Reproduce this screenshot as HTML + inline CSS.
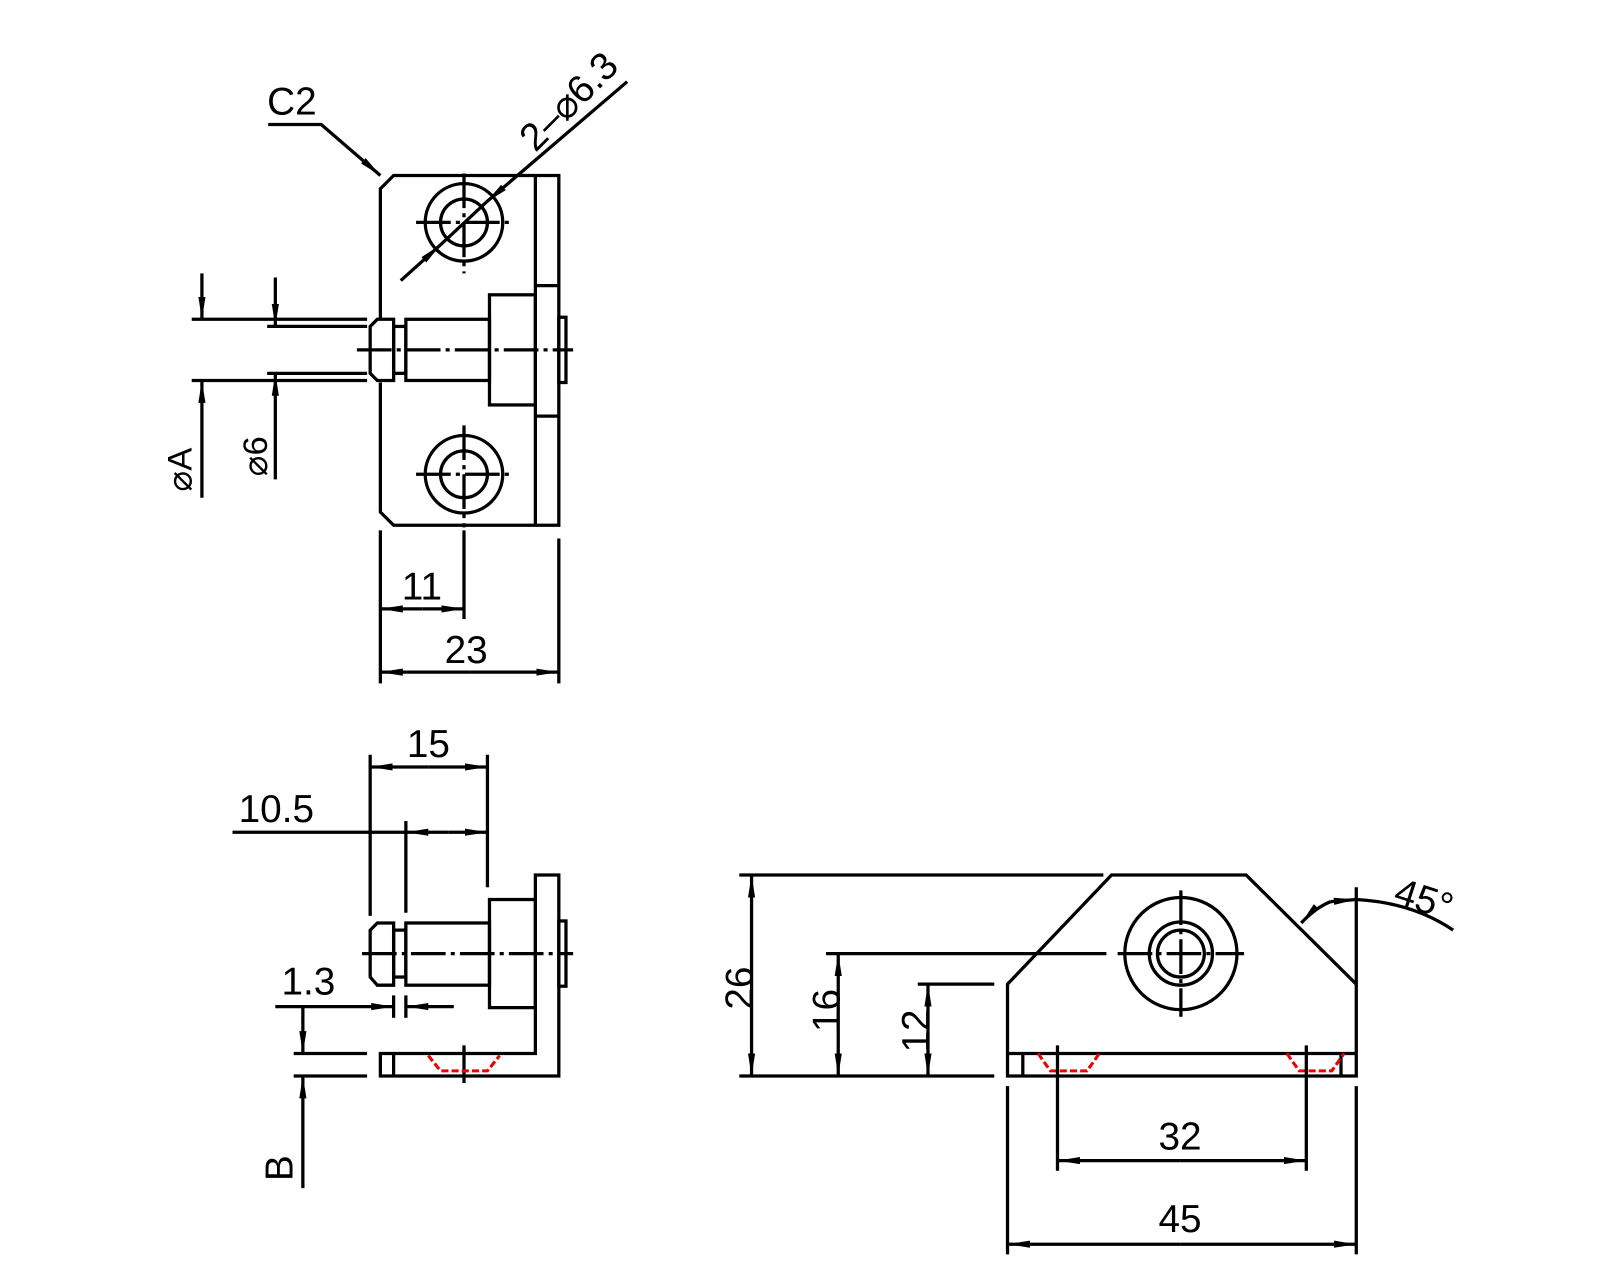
<!DOCTYPE html>
<html><head><meta charset="utf-8"><style>
html,body{margin:0;padding:0;background:#fff}
svg{display:block}
text{font-family:"Liberation Sans",sans-serif;font-size:38px;fill:#000}
</style></head><body>
<svg width="1600" height="1280" viewBox="0 0 1569 1255" xmlns="http://www.w3.org/2000/svg">
<defs>
<marker id="a" viewBox="0 0 22 9" refX="22" refY="4.5" markerWidth="22" markerHeight="9" markerUnits="userSpaceOnUse" orient="auto"><path d="M0,1 L22,4.5 L0,8 z" fill="#000"/></marker>
</defs>
<g fill="none" stroke="#000" stroke-width="3.2">
<!-- TOP VIEW -->
<path d="M373,313 L373,185 L386,172 L548,172 L548,515 L386,515 L373,502 L373,375"/>
<line x1="525" y1="172" x2="525" y2="515"/>
<line x1="525" y1="280" x2="548" y2="280"/><line x1="525" y1="408" x2="548" y2="408"/>
<rect x="480" y="289" width="45" height="108"/>
<rect x="548" y="311" width="7" height="64"/>
<rect x="398" y="313" width="82" height="60"/>
<rect x="386" y="320" width="12" height="46"/>
<path d="M386,313 L370,313 L363,320 L363,366 L370,373 L386,373 Z"/>
<circle cx="455" cy="218" r="38"/><circle cx="455" cy="218" r="23"/>
<circle cx="455" cy="465" r="38"/><circle cx="455" cy="465" r="23"/>
<g stroke-dasharray="34,5,4,5">
<line x1="408" y1="218" x2="504" y2="218"/><line x1="455" y1="170" x2="455" y2="268"/>
<line x1="408" y1="465" x2="504" y2="465"/><line x1="455" y1="417" x2="455" y2="517"/>
<line x1="350" y1="343" x2="562" y2="343"/>
</g>
<line x1="393" y1="275" x2="432" y2="240" marker-end="url(#a)"/>
<line x1="615" y1="80" x2="477" y2="198" marker-end="url(#a)"/>
<line x1="432" y1="240" x2="477" y2="198"/>
<path d="M263,122 L315,122 L373,172" marker-end="url(#a)"/>
<line x1="188" y1="313" x2="360" y2="313"/><line x1="188" y1="373" x2="360" y2="373"/>
<line x1="262" y1="320" x2="360" y2="320"/><line x1="262" y1="366" x2="360" y2="366"/>
<line x1="198" y1="268" x2="198" y2="313" marker-end="url(#a)"/>
<line x1="198" y1="488" x2="198" y2="373" marker-end="url(#a)"/>
<line x1="270" y1="272" x2="270" y2="320" marker-end="url(#a)"/>
<line x1="270" y1="470" x2="270" y2="366" marker-end="url(#a)"/>
<line x1="373" y1="520" x2="373" y2="670"/><line x1="455" y1="520" x2="455" y2="607"/><line x1="548" y1="528" x2="548" y2="670"/>
<line x1="414" y1="597" x2="373" y2="597" marker-end="url(#a)"/><line x1="414" y1="597" x2="455" y2="597" marker-end="url(#a)"/>
<line x1="460" y1="659" x2="373" y2="659" marker-end="url(#a)"/><line x1="460" y1="659" x2="548" y2="659" marker-end="url(#a)"/>

<!-- SIDE VIEW -->
<path d="M373,1033 L525,1033 L525,858 L548,858 L548,1055 L373,1055 Z"/>
<line x1="386" y1="1033" x2="386" y2="1055"/>
<rect x="480" y="882" width="45" height="106"/>
<rect x="548" y="903" width="7" height="64"/>
<rect x="398" y="905" width="82" height="61"/>
<rect x="386" y="912" width="12" height="46"/>
<path d="M386,905 L370,905 L363,912 L363,958 L370,966 L386,966 Z"/>
<g stroke-dasharray="34,5,4,5"><line x1="355" y1="935" x2="562" y2="935"/></g>
<line x1="455" y1="1025" x2="455" y2="1062"/>
<path d="M420,1035 L432,1050 L478,1050 L490,1035" stroke="#e00" stroke-width="3" stroke-dasharray="7,3"/>
<line x1="363" y1="740" x2="363" y2="898"/><line x1="478" y1="740" x2="478" y2="870"/>
<line x1="420" y1="752" x2="363" y2="752" marker-end="url(#a)"/><line x1="420" y1="752" x2="478" y2="752" marker-end="url(#a)"/>
<line x1="228" y1="816" x2="398" y2="816"/><line x1="398" y1="805" x2="398" y2="895"/>
<line x1="440" y1="816" x2="398" y2="816" marker-end="url(#a)"/><line x1="440" y1="816" x2="478" y2="816" marker-end="url(#a)"/>
<line x1="270" y1="987" x2="386" y2="987" marker-end="url(#a)"/><line x1="445" y1="987" x2="398" y2="987" marker-end="url(#a)"/>
<line x1="386" y1="976" x2="386" y2="998"/><line x1="398" y1="976" x2="398" y2="998"/>
<line x1="288" y1="1033" x2="360" y2="1033"/><line x1="288" y1="1055" x2="360" y2="1055"/>
<line x1="297" y1="987" x2="297" y2="1033" marker-end="url(#a)"/>
<line x1="297" y1="1165" x2="297" y2="1055" marker-end="url(#a)"/>

<!-- FRONT VIEW -->
<path d="M988,965 L1090,858 L1222,858 L1330,965 L1330,1055 L988,1055 Z"/>
<line x1="988" y1="1033" x2="1330" y2="1033"/>
<line x1="1003" y1="1033" x2="1003" y2="1055"/><line x1="1315" y1="1033" x2="1315" y2="1055"/>
<circle cx="1158" cy="935" r="55"/><circle cx="1158" cy="935" r="31"/><circle cx="1158" cy="935" r="23"/>
<g stroke-dasharray="34,5,4,5">
<line x1="1096" y1="935" x2="1220" y2="935"/><line x1="1158" y1="873" x2="1158" y2="997"/>
</g>
<path d="M1018,1033 L1030,1050 L1066,1050 L1078,1033" stroke="#e00" stroke-width="3" stroke-dasharray="7,3"/>
<path d="M1262,1033 L1274,1050 L1306,1050 L1318,1033" stroke="#e00" stroke-width="3" stroke-dasharray="7,3"/>
<line x1="1037" y1="1025" x2="1037" y2="1148"/><line x1="1281" y1="1025" x2="1281" y2="1148"/>
<line x1="725" y1="858" x2="1082" y2="858"/>
<line x1="810" y1="935" x2="1085" y2="935"/>
<line x1="900" y1="965" x2="975" y2="965"/>
<line x1="725" y1="1055" x2="975" y2="1055"/>
<line x1="737" y1="960" x2="737" y2="858" marker-end="url(#a)"/><line x1="737" y1="960" x2="737" y2="1055" marker-end="url(#a)"/>
<line x1="822" y1="995" x2="822" y2="935" marker-end="url(#a)"/><line x1="822" y1="995" x2="822" y2="1055" marker-end="url(#a)"/>
<line x1="910" y1="1010" x2="910" y2="965" marker-end="url(#a)"/><line x1="910" y1="1010" x2="910" y2="1055" marker-end="url(#a)"/>
<line x1="988" y1="1065" x2="988" y2="1230"/><line x1="1330" y1="1065" x2="1330" y2="1230"/>
<line x1="1158" y1="1138" x2="1037" y2="1138" marker-end="url(#a)"/><line x1="1158" y1="1138" x2="1281" y2="1138" marker-end="url(#a)"/>
<line x1="1158" y1="1220" x2="988" y2="1220" marker-end="url(#a)"/><line x1="1158" y1="1220" x2="1330" y2="1220" marker-end="url(#a)"/>
<line x1="1330" y1="870" x2="1330" y2="965"/>
<path d="M1305,884 Q1290,890 1276,905" marker-end="url(#a)"/>
<path d="M1305,884 L1330,882" marker-end="url(#a)"/>
<path d="M1330,882 Q1385,885 1425,912"/>
</g>
<!-- TEXT -->
<text x="262" y="112">C2</text>
<text transform="translate(525,150) rotate(-45)">2–⌀6.3</text>
<text transform="translate(188,482) rotate(-90)" style="font-size:34px">⌀A</text>
<text transform="translate(262,467) rotate(-90)" style="font-size:34px">⌀6</text>
<text x="394" y="588">11</text>
<text x="436" y="650">23</text>
<text x="399" y="742">15</text>
<text x="234" y="806">10.5</text>
<text x="276" y="975">1.3</text>
<text transform="translate(287,1158) rotate(-90)">B</text>
<text transform="translate(738,990) rotate(-90)">26</text>
<text transform="translate(823,1012) rotate(-90)">16</text>
<text transform="translate(911,1032) rotate(-90)">12</text>
<text x="1136" y="1127">32</text>
<text x="1136" y="1208">45</text>
<text transform="translate(1365,885) rotate(18)">45°</text>
</svg>
</body></html>
